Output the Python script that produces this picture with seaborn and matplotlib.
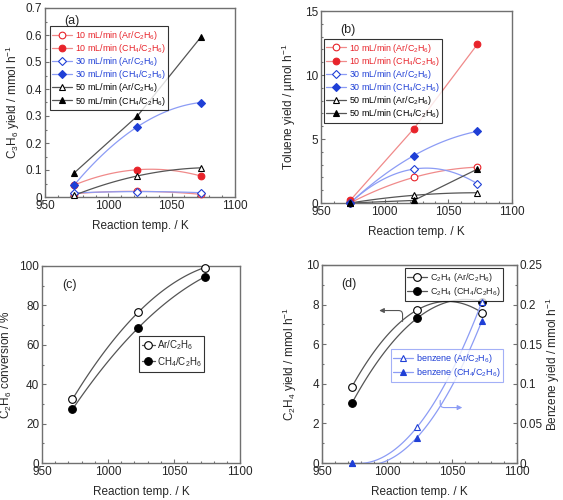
import numpy as np
import pandas as pd
import seaborn as sns
import matplotlib.pyplot as plt
from matplotlib.lines import Line2D
from matplotlib.ticker import MultipleLocator

# ---- data ----
temps = [973, 1023, 1073]

# (a) C3H6 yield / mmol h-1
c3h6_10_ar = [0.012, 0.021, 0.010]
c3h6_10_ch4 = [0.044, 0.101, 0.078]
c3h6_30_ar = [0.015, 0.020, 0.016]
c3h6_30_ch4 = [0.044, 0.260, 0.350]
c3h6_50_ar = [0.006, 0.078, 0.108]
c3h6_50_ch4 = [0.089, 0.300, 0.591]

# (b) toluene yield / umol h-1
tol_10_ar = [0.0, 2.0, 2.8]
tol_10_ch4 = [0.2, 5.8, 12.4]
tol_30_ar = [0.0, 2.65, 1.5]
tol_30_ch4 = [0.0, 3.7, 5.6]
tol_50_ar = [0.0, 0.6, 0.8]
tol_50_ch4 = [0.0, 0.2, 2.65]

# (c) C2H6 conversion / %
conv_ar = [32.3, 76.6, 99.2]
conv_ch4 = [27.2, 68.7, 94.4]

# (d) C2H4 and benzene yield / mmol h-1
c2h4_ar = [3.85, 7.72, 7.6]
c2h4_ch4 = [3.02, 7.3, 8.15]
benz_ar = [0.0, 0.045, 0.203]
benz_ch4 = [0.0, 0.032, 0.179]

sns.set_style("ticks")
plt.rcParams['font.family'] = ['Liberation Sans', 'DejaVu Sans']
plt.rcParams['mathtext.fontset'] = 'custom'
plt.rcParams['mathtext.rm'] = 'Liberation Sans'
plt.rcParams['mathtext.it'] = 'Liberation Sans'
plt.rcParams['font.size'] = 8.5

RED_L, RED = '#f08a8a', '#e8232a'
BLUE_L, BLUE = '#8c9cf5', '#1f3fd6'
GREY_L, BLACK = '#555555', 'black'
SPINE = '#707070'

MS = {'o': 4.8, 'D': 4.0, '^': 5.0}


def smooth(x, y, straight=False):
    xs = np.linspace(x[0], x[-1], 100)
    if straight:
        return xs, np.interp(xs, x, y)
    return xs, np.polyval(np.polyfit(x, y, 2), xs)


def series(ax, y, lcol, mcol, marker, filled, straight=False, scale=1.0, lw=0.9):
    ms = MS[marker] * scale
    xs, ys = smooth(temps, y, straight)
    df = pd.DataFrame({'T': xs, 'v': ys})
    sns.lineplot(data=df, x='T', y='v', ax=ax, color=lcol, lw=lw, zorder=2)
    ax.plot(temps, y, ls='none', marker=marker, ms=ms, mec=mcol,
            mfc=mcol if filled else 'white', mew=0.8, zorder=3, clip_on=False)
    return Line2D([], [], color=lcol, lw=lw, marker=marker, ms=ms, mec=mcol,
                  mfc=mcol if filled else 'white', mew=0.8)


def style(ax, ymax, ymaj, ymin):
    ax.set_xlim(950, 1100)
    ax.set_ylim(0, ymax)
    ax.xaxis.set_major_locator(MultipleLocator(50))
    ax.xaxis.set_minor_locator(MultipleLocator(10))
    ax.yaxis.set_major_locator(MultipleLocator(ymaj))
    ax.yaxis.set_minor_locator(MultipleLocator(ymin))
    ax.tick_params(which='both', direction='in', color=SPINE, top=False, right=False)
    ax.tick_params(which='major', length=3, width=0.8, labelsize=8.5, pad=2)
    ax.tick_params(which='minor', length=1.5, width=0.8)
    for s in ax.spines.values():
        s.set_visible(True)
        s.set_color(SPINE)
        s.set_linewidth(1.0)
    ax.set_xlabel('Reaction temp. / K', fontsize=8.5, labelpad=6)


def small_legend(ax, handles, labels, anchor, loc='upper left', edge='black',
                 fs=6.4, hl=2.2, sp=0.02):
    leg = ax.legend(handles, labels, loc=loc, bbox_to_anchor=anchor,
                    fontsize=fs, frameon=True, fancybox=False, edgecolor=edge,
                    handlelength=hl, handletextpad=0.3, borderpad=0.3,
                    labelspacing=sp, borderaxespad=0)
    leg.get_frame().set_linewidth(0.8)
    return leg


fig = plt.figure(figsize=(5.63, 5.0), dpi=100)
ax_a = fig.add_axes([0.080, 0.606, 0.337, 0.378])
ax_b = fig.add_axes([0.570, 0.594, 0.339, 0.384])
ax_c = fig.add_axes([0.0746, 0.074, 0.352, 0.394])
ax_d = fig.add_axes([0.572, 0.074, 0.346, 0.396])

# ---- (a) ----
h = []
h.append(series(ax_a, c3h6_10_ar, RED_L, RED, 'o', False))
h.append(series(ax_a, c3h6_10_ch4, RED_L, RED, 'o', True))
h.append(series(ax_a, c3h6_30_ar, BLUE_L, BLUE, 'D', False))
h.append(series(ax_a, c3h6_30_ch4, BLUE_L, BLUE, 'D', True))
h.append(series(ax_a, c3h6_50_ar, GREY_L, BLACK, '^', False))
h.append(series(ax_a, c3h6_50_ch4, GREY_L, BLACK, '^', True, straight=True))
labels = ['10 mL/min (Ar/C$_2$H$_6$)', '10 mL/min (CH$_4$/C$_2$H$_6$)',
          '30 mL/min (Ar/C$_2$H$_6$)', '30 mL/min (CH$_4$/C$_2$H$_6$)',
          '50 mL/min (Ar/C$_2$H$_6$)', '50 mL/min (CH$_4$/C$_2$H$_6$)']
tcols = [RED, RED, BLUE, BLUE, BLACK, BLACK]
style(ax_a, 0.7, 0.1, 0.05)
ax_a.yaxis.set_major_formatter(lambda v, p: '0' if v == 0 else f'{v:.1f}')
ax_a.set_ylabel('C$_3$H$_6$ yield / mmol h$^{-1}$', fontsize=8.5, labelpad=3)
ax_a.text(0.10, 0.93, '(a)', transform=ax_a.transAxes, fontsize=9, va='center')
leg = small_legend(ax_a, h, labels, (0.025, 0.905))
for t, c in zip(leg.get_texts(), tcols):
    t.set_color(c)

# ---- (b) ----
h = []
h.append(series(ax_b, tol_10_ar, RED_L, RED, 'o', False))
h.append(series(ax_b, tol_10_ch4, RED_L, RED, 'o', True, straight=True))
h.append(series(ax_b, tol_30_ar, BLUE_L, BLUE, 'D', False))
h.append(series(ax_b, tol_30_ch4, BLUE_L, BLUE, 'D', True))
h.append(series(ax_b, tol_50_ar, GREY_L, BLACK, '^', False))
h.append(series(ax_b, tol_50_ch4, GREY_L, BLACK, '^', True, straight=True))
style(ax_b, 15, 5, 1)
ax_b.set_ylabel('Toluene yield / µmol h$^{-1}$', fontsize=8.5, labelpad=5)
ax_b.text(0.10, 0.90, '(b)', transform=ax_b.transAxes, fontsize=9, va='center')
leg = small_legend(ax_b, h, labels, (0.015, 0.855))
for t, c in zip(leg.get_texts(), tcols):
    t.set_color(c)

# ---- (c) ----
h = []
h.append(series(ax_c, conv_ar, GREY_L, BLACK, 'o', False, scale=1.15))
h.append(series(ax_c, conv_ch4, GREY_L, BLACK, 'o', True, scale=1.15))
style(ax_c, 100, 20, 10)
ax_c.set_ylabel('C$_2$H$_6$ conversion / %', fontsize=8.5, labelpad=4)
ax_c.text(0.10, 0.905, '(c)', transform=ax_c.transAxes, fontsize=9, va='center')
leg = ax_c.legend(h, ['Ar/C$_2$H$_6$', 'CH$_4$/C$_2$H$_6$'], loc='center',
                  bbox_to_anchor=(0.655, 0.555), fontsize=7, frameon=True,
                  fancybox=False, edgecolor='black', handlelength=1.3,
                  handletextpad=0.2, borderpad=0.3, labelspacing=0.25)
leg.get_frame().set_linewidth(0.8)

# ---- (d) ----
h = []
h.append(series(ax_d, c2h4_ar, GREY_L, BLACK, 'o', False, scale=1.15))
h.append(series(ax_d, c2h4_ch4, GREY_L, BLACK, 'o', True, scale=1.15))
style(ax_d, 10, 2, 1)
ax_d.set_ylabel('C$_2$H$_4$ yield / mmol h$^{-1}$', fontsize=8.5, labelpad=5)
ax_d.text(0.10, 0.905, '(d)', transform=ax_d.transAxes, fontsize=9, va='center')
small_legend(ax_d, h, ['C$_2$H$_4$ (Ar/C$_2$H$_6$)', 'C$_2$H$_4$ (CH$_4$/C$_2$H$_6$)'],
             (0.93, 0.985), loc='upper right', fs=6.5, hl=2.2, sp=0.15)

ax_r = ax_d.twinx()
hb = []
hb.append(series(ax_r, benz_ar, BLUE_L, BLUE, '^', False))
hb.append(series(ax_r, benz_ch4, BLUE_L, BLUE, '^', True))
ax_r.set_ylim(0, 0.25)
ax_r.yaxis.set_major_locator(MultipleLocator(0.05))
ax_r.yaxis.set_minor_locator(MultipleLocator(0.025))
ax_r.yaxis.set_major_formatter(lambda v, p: '0' if v == 0 else f'{v:g}')
ax_r.tick_params(which='both', direction='in', color=SPINE, right=True, left=False)
ax_r.tick_params(which='major', length=3, width=0.8, labelsize=8.5, pad=2)
ax_r.tick_params(which='minor', length=1.5, width=0.8)
for s in ax_r.spines.values():
    s.set_color(SPINE)
ax_r.set_ylabel('Benzene yield / mmol h$^{-1}$', fontsize=8.5, labelpad=1)
leg = small_legend(ax_r, hb, ['benzene (Ar/C$_2$H$_6$)', 'benzene (CH$_4$/C$_2$H$_6$)'],
                   (0.93, 0.575), loc='upper right', edge=BLUE_L, fs=6.5, hl=2.2,
                   sp=0.15)
for t in leg.get_texts():
    t.set_color(BLUE)

ax_d.annotate('', xy=(994, 7.7), xytext=(1012, 7.15),
              arrowprops=dict(arrowstyle='-|>', color=GREY_L, lw=0.8,
                              mutation_scale=7, shrinkA=0, shrinkB=0,
                              connectionstyle='angle,angleA=90,angleB=0,rad=4'))
ax_r.annotate('', xy=(1058, 0.07), xytext=(1041, 0.079),
              arrowprops=dict(arrowstyle='-|>', color=BLUE_L, lw=0.8,
                              mutation_scale=7, shrinkA=0, shrinkB=0,
                              connectionstyle='angle,angleA=90,angleB=0,rad=4'))

plt.savefig('out.png', dpi=100)
